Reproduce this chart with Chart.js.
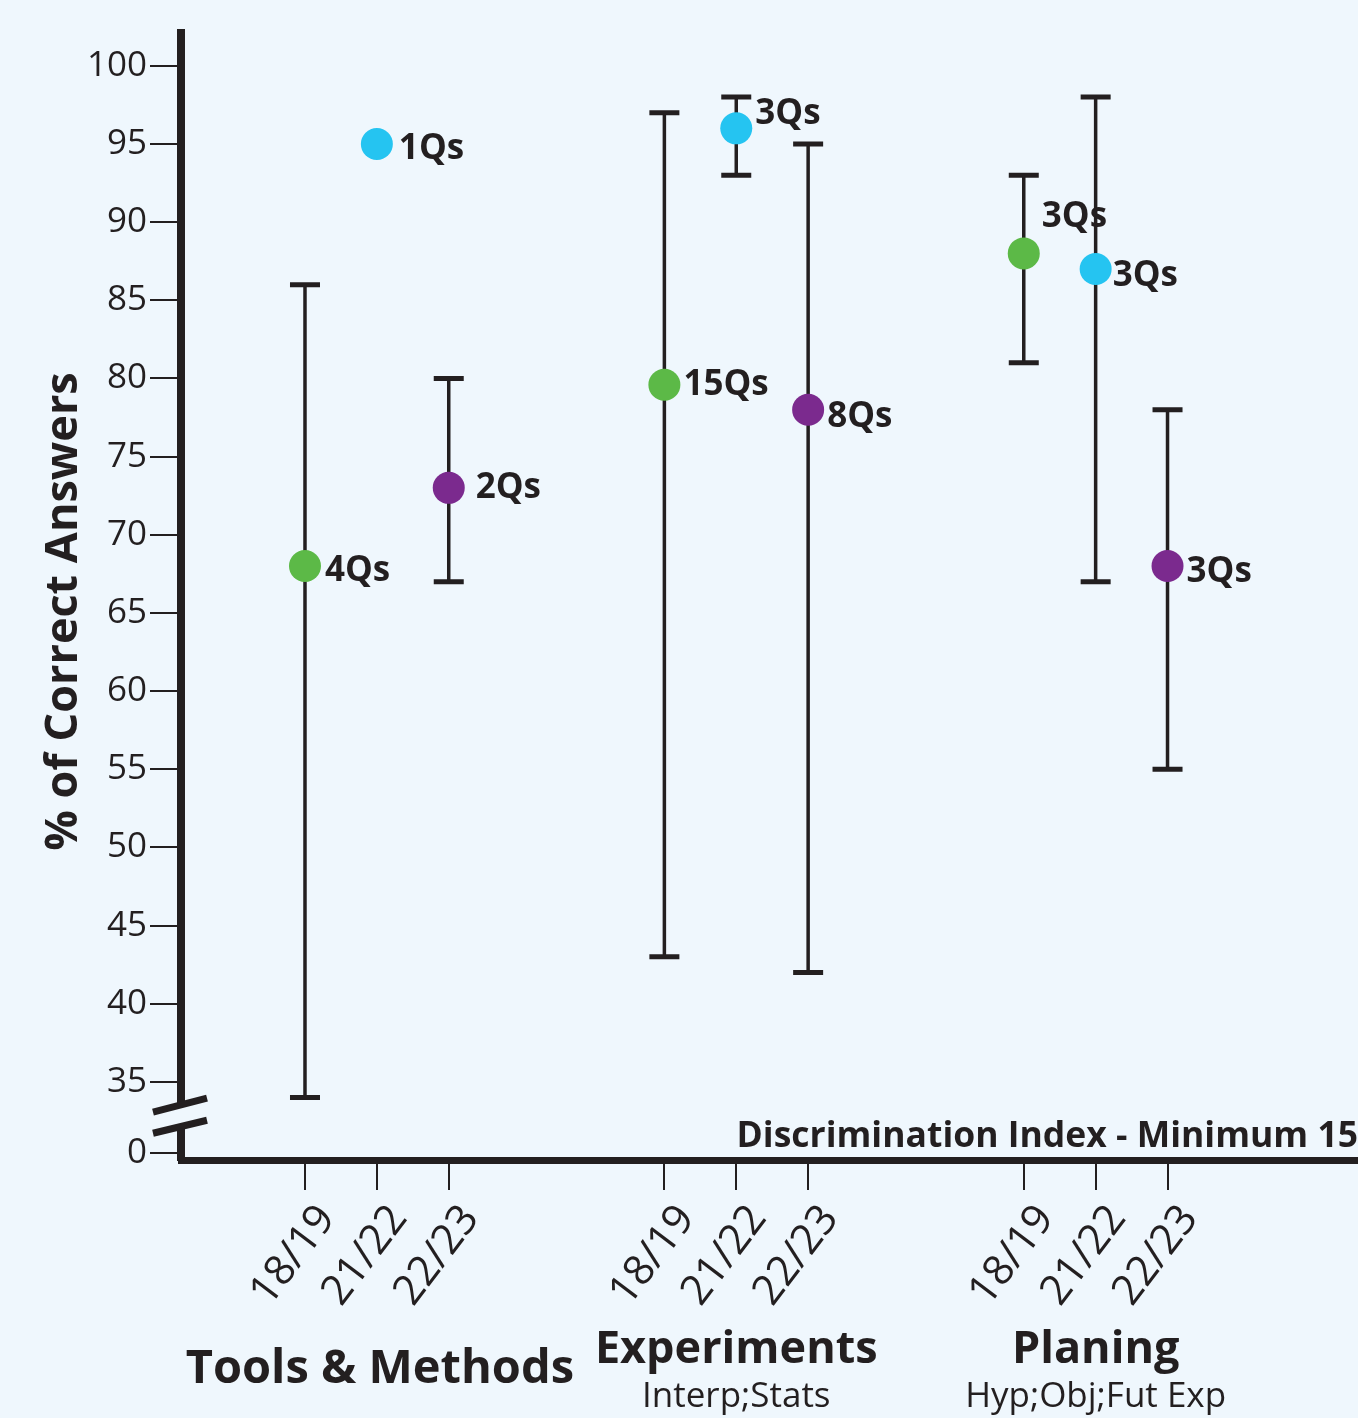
<!DOCTYPE html>
<html>
<head>
<meta charset="utf-8">
<script src="https://cdn.jsdelivr.net/npm/chart.js@4.4.0/dist/chart.umd.min.js"></script>
<style>
  html, body { margin: 0; padding: 0; background: #eff7fd; overflow: hidden; }
  #wrap { width: 1358px; height: 1418px; position: relative; }
  canvas { display: block; }
</style>
</head>
<body>
<div id="wrap"><canvas id="discChart"></canvas></div>
<script>
// categories
const groups = ['Tools & Methods', 'Experiments', 'Planing'];
const subtitles = ['', 'Interp;Stats', 'Hyp;Obj;Fut Exp'];
const years = ['18/19', '21/22', '22/23'];

// % correct, one value per group
const mean1819 = [68, 79.6, 88];
const low1819  = [34, 43, 81];
const high1819 = [86, 97, 93];
const qs1819   = ['4Qs', '15Qs', '3Qs'];

const mean2122 = [95, 96, 87];
const low2122  = [null, 93, 67];
const high2122 = [null, 98, 98];
const qs2122   = ['1Qs', '3Qs', '3Qs'];

const mean2223 = [73, 78, 68];
const low2223  = [67, 42, 55];
const high2223 = [80, 95, 78];
const qs2223   = ['2Qs', '8Qs', '3Qs'];

// y ticks ("0" sits just under the axis break)
const yTickLabels = ['0', '35', '40', '45', '50', '55', '60', '65', '70', '75', '80', '85', '90', '95', '100'];

const ink = '#231f20';
const bg = '#eff7fd';
const FONT = '"Open Sans", sans-serif';
const BREAK_ZERO = 30.45;
const GROUP_STEP = 5;

const series = [
  { mean: mean1819, low: low1819, high: high1819, qs: qs1819, color: '#5cb947' },
  { mean: mean2122, low: low2122, high: high2122, qs: qs2122, color: '#25c4f1' },
  { mean: mean2223, low: low2223, high: high2223, qs: qs2223, color: '#7b2a8e' }
];

const xOf = (g, yi) => g * GROUP_STEP + yi;
const xTickVals = [];
groups.forEach((_, g) => years.forEach((_, yi) => xTickVals.push(xOf(g, yi))));
const yTickVals = yTickLabels.map(t => t === '0' ? BREAK_ZERO : Number(t));

// small nudges for the "nQs" labels, [series][group]
const qLift = [[5, 0, -36], [5, -14, 7], [0, 7, 6]];
const qGap = [[20, 19, 18], [22, 19, 17], [27, 19, 19]];

const background = {
  id: 'background',
  beforeDraw(chart) {
    const c = chart.ctx;
    c.save();
    c.fillStyle = bg;
    c.fillRect(0, 0, chart.width, chart.height);
    c.restore();
  }
};

const errorBars = {
  id: 'errorBars',
  beforeDatasetsDraw(chart) {
    const { ctx, scales: { x, y } } = chart;
    ctx.save();
    ctx.strokeStyle = ink;
    series.forEach((s, si) => {
      s.low.forEach((lo, g) => {
        if (lo == null) return;
        const px = x.getPixelForValue(xOf(g, si));
        const top = y.getPixelForValue(s.high[g]);
        const bot = y.getPixelForValue(lo);
        ctx.lineWidth = 3.5;
        ctx.beginPath();
        ctx.moveTo(px, top);
        ctx.lineTo(px, bot);
        ctx.stroke();
        ctx.lineWidth = 5;
        ctx.beginPath();
        ctx.moveTo(px - 15, top); ctx.lineTo(px + 15, top);
        ctx.moveTo(px - 15, bot); ctx.lineTo(px + 15, bot);
        ctx.stroke();
      });
    });
    ctx.restore();
  },
  afterDatasetsDraw(chart) {
    const ctx = chart.ctx;
    ctx.save();
    ctx.fillStyle = ink;
    ctx.font = `bold 35px ${FONT}`;
    ctx.textAlign = 'left';
    ctx.textBaseline = 'middle';
    series.forEach((s, si) => {
      const meta = chart.getDatasetMeta(si);
      s.qs.forEach((q, g) => {
        const p = meta.data[g];
        ctx.fillText(q, p.x + qGap[si][g], p.y + qLift[si][g]);
      });
    });
    ctx.restore();
  }
};

const decorations = {
  id: 'decorations',
  afterDraw(chart) {
    const { ctx, chartArea, scales: { x, y } } = chart;
    ctx.save();
    // axis break
    const bx = chartArea.left;
    const by = y.getPixelForValue(32.8);
    ctx.fillStyle = bg;
    ctx.beginPath();
    ctx.moveTo(bx - 28, by - 4); ctx.lineTo(bx + 26, by - 18);
    ctx.lineTo(bx + 26, by + 4); ctx.lineTo(bx - 28, by + 17);
    ctx.closePath();
    ctx.fill();
    ctx.strokeStyle = ink;
    ctx.lineWidth = 7;
    ctx.beginPath();
    ctx.moveTo(bx - 28, by - 4); ctx.lineTo(bx + 26, by - 18);
    ctx.moveTo(bx - 28, by + 17); ctx.lineTo(bx + 26, by + 4);
    ctx.stroke();

    ctx.fillStyle = ink;

    // y axis title
    ctx.save();
    ctx.translate(77, (chartArea.top + chartArea.bottom) / 2 + 15);
    ctx.rotate(-Math.PI / 2);
    ctx.font = `bold 45px ${FONT}`;
    ctx.textAlign = 'center';
    ctx.textBaseline = 'alphabetic';
    ctx.fillText('% of Correct Answers', 0, 0);
    ctx.restore();

    // note above the x axis
    ctx.font = `bold 35.5px ${FONT}`;
    ctx.textAlign = 'right';
    ctx.textBaseline = 'middle';
    ctx.fillText('Discrimination Index - Minimum 15', chartArea.right, chartArea.bottom - 23);

    // group names
    ctx.textAlign = 'center';
    groups.forEach((name, g) => {
      const cx = x.getPixelForValue(xOf(g, 1));
      if (subtitles[g]) {
        ctx.font = `bold 45px ${FONT}`;
        ctx.fillText(name, cx, 1350);
        ctx.font = `35px ${FONT}`;
        ctx.fillText(subtitles[g], cx, 1397);
      } else {
        ctx.font = `bold 47px ${FONT}`;
        ctx.fillText(name, cx + 3, 1370);
      }
    });
    ctx.restore();
  }
};

new Chart(document.getElementById('discChart'), {
  type: 'scatter',
  data: {
    datasets: series.map((s, si) => ({
      label: years[si],
      data: s.mean.map((m, g) => ({ x: xOf(g, si), y: m })),
      backgroundColor: s.color,
      borderWidth: 0,
      pointRadius: 16,
      pointHoverRadius: 16
    }))
  },
  options: {
    responsive: true,
    maintainAspectRatio: false,
    animation: false,
    events: [],
    layout: { autoPadding: false, padding: { top: 33, left: 0, right: 0, bottom: 0 } },
    plugins: {
      legend: { display: false },
      tooltip: { enabled: false }
    },
    scales: {
      x: {
        type: 'linear',
        min: -1.725,
        max: 14.65,
        afterBuildTicks: s => { s.ticks = xTickVals.map(v => ({ value: v })); },
        afterFit: s => { s.height = 258; s.paddingLeft = 0; s.paddingRight = 0; },
        border: { color: ink, width: 7 },
        grid: { drawOnChartArea: false, drawTicks: true, tickLength: 30, color: ink, lineWidth: 2 },
        ticks: {
          autoSkip: false,
          minRotation: 53,
          maxRotation: 53,
          padding: 6,
          labelOffset: 22,
          color: ink,
          font: { family: FONT, size: 42 },
          callback: (v, i) => years[i % 3]
        }
      },
      y: {
        min: 30,
        max: 102.1,
        afterBuildTicks: s => { s.ticks = yTickVals.map(v => ({ value: v })); },
        afterFit: s => { s.width = 181; s.paddingTop = 0; s.paddingBottom = 0; },
        border: { color: ink, width: 8 },
        grid: { drawOnChartArea: false, drawTicks: true, tickLength: 31, color: ink, lineWidth: 2 },
        ticks: {
          padding: 3,
          color: ink,
          font: { family: FONT, size: 35 },
          callback: (v, i) => yTickLabels[i]
        }
      }
    }
  },
  plugins: [background, errorBars, decorations]
});
</script>
</body>
</html>
